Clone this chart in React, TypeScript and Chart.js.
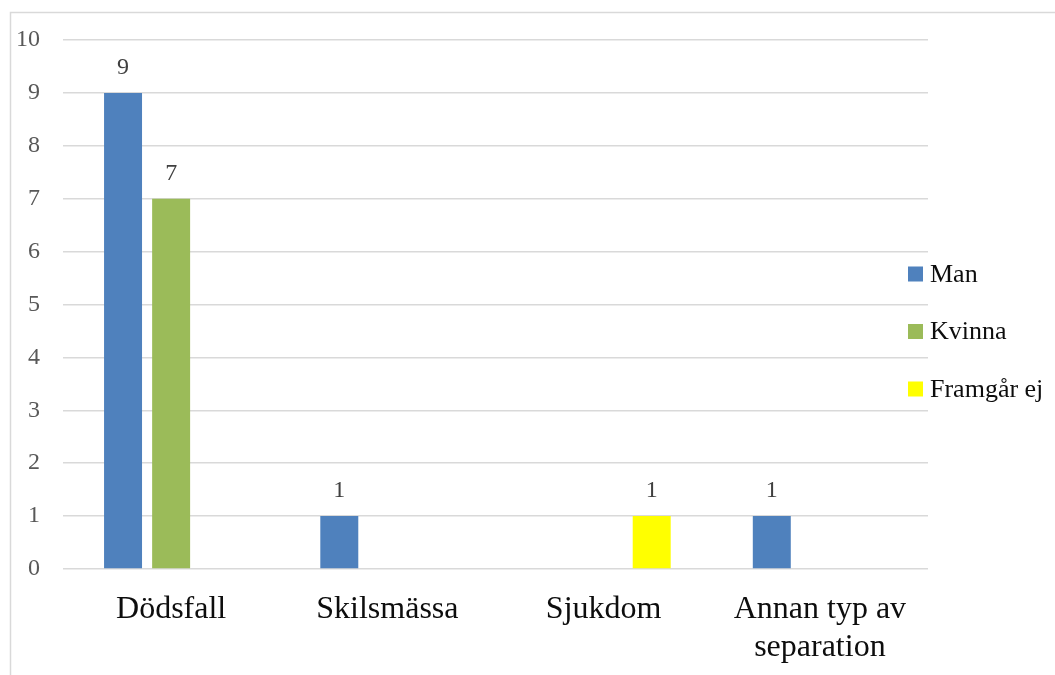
import React, { useEffect, useRef } from 'react';
import { Chart, registerables } from 'chart.js';

Chart.register(...registerables);

const categories: (string | string[])[] = ['Dödsfall', 'Skilsmässa', 'Sjukdom', ['Annan typ av', 'separation']];
const seriesNames = ['Man', 'Kvinna', 'Framgår ej'];
const manValues = [9, 1, 0, 1];
const kvinnaValues = [7, 0, 0, 0];
const framgarValues = [0, 0, 1, 0];
const seriesColors = ['#4F81BD', '#9BBB59', '#FFFF00'];
const yMin = 0;
const yMax = 10;
const yStep = 1;

const FONT = '"Liberation Serif", "Times New Roman", serif';

const overlayPlugin = {
  id: 'overlay',
  afterDatasetsDraw(chart: any) {
    const ctx = chart.ctx;
    ctx.save();
    ctx.font = `24px ${FONT}`;
    ctx.fillStyle = '#404040';
    ctx.textAlign = 'center';
    ctx.textBaseline = 'middle';
    chart.data.datasets.forEach((ds: any, i: number) => {
      const meta = chart.getDatasetMeta(i);
      meta.data.forEach((el: any, j: number) => {
        const v = ds.data[j];
        if (v > 0) ctx.fillText(String(v), el.x, el.y - 25);
      });
    });
    ctx.restore();
  },
  afterDraw(chart: any) {
    const ctx = chart.ctx;
    ctx.save();
    // frame
    ctx.strokeStyle = '#D9D9D9';
    ctx.lineWidth = 1.5;
    ctx.beginPath();
    ctx.moveTo(10.5, 675);
    ctx.lineTo(10.5, 12.5);
    ctx.lineTo(1055, 12.5);
    ctx.stroke();
    // legend
    const area = chart.chartArea;
    const x0 = area.right - 20;
    const yc0 = 274;
    const gap = 57.5;
    ctx.font = `26px ${FONT}`;
    ctx.textAlign = 'left';
    ctx.textBaseline = 'middle';
    chart.data.datasets.forEach((ds: any, i: number) => {
      const yc = yc0 + i * gap;
      ctx.fillStyle = ds.backgroundColor;
      ctx.fillRect(x0, yc - 7.5, 15, 15);
      ctx.fillStyle = '#0D0D0D';
      ctx.fillText(ds.label, x0 + 22, yc + 1);
    });
    ctx.restore();
  },
};

export default function App() {
  const ref = useRef<HTMLCanvasElement | null>(null);
  useEffect(() => {
    if (!ref.current) return;
    const chart = new Chart(ref.current, {
      type: 'bar',
      data: {
        labels: categories as any,
        datasets: [
          { label: seriesNames[0], data: manValues, backgroundColor: seriesColors[0] },
          { label: seriesNames[1], data: kvinnaValues, backgroundColor: seriesColors[1] },
          { label: seriesNames[2], data: framgarValues, backgroundColor: seriesColors[2] },
        ],
      },
      options: {
        animation: false,
        responsive: false,
        devicePixelRatio: 1,
        layout: { padding: { left: 0, right: 127, top: 40, bottom: 0 } },
        datasets: { bar: { categoryPercentage: 0.667, barPercentage: 0.79 } },
        plugins: { legend: { display: false }, tooltip: { enabled: false } },
        scales: {
          x: {
            grid: { display: false, drawTicks: false },
            border: { display: false },
            ticks: {
              padding: 22,
              color: '#0D0D0D',
              font: { family: FONT, size: 32, lineHeight: 1.17 },
              maxRotation: 0,
              autoSkip: false,
            },
            afterFit: (axis: any) => { axis.height = 106; },
          },
          y: {
            min: yMin,
            max: yMax,
            grid: { color: '#D9D9D9', lineWidth: 1.5, drawTicks: false },
            border: { display: false },
            ticks: {
              stepSize: yStep,
              padding: 23,
              color: '#595959',
              font: { family: FONT, size: 24 },
            },
            afterFit: (axis: any) => { axis.width = 63; },
          },
        },
      },
      plugins: [overlayPlugin],
    } as any);
    return () => chart.destroy();
  }, []);
  return (
    <div style={{ position: 'fixed', left: 0, top: 0, width: 1055, height: 675, background: '#fff' }}>
      <canvas ref={ref} width={1055} height={675} style={{ display: 'block' }} />
    </div>
  );
}
